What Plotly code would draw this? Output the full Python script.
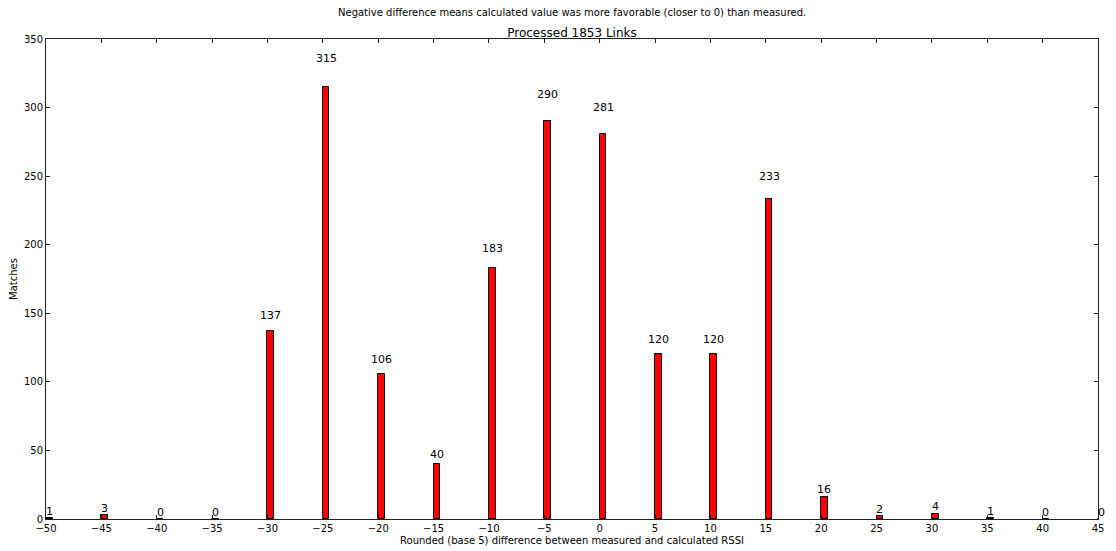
import plotly.graph_objects as go

# RSSI difference bins (rounded to base 5) and their match counts
bins = [-50, -45, -40, -35, -30, -25, -20, -15, -10, -5, 0, 5, 10, 15, 20, 25, 30, 35, 40, 45]
matches = [1, 3, 0, 0, 137, 315, 106, 40, 183, 290, 281, 120, 120, 233, 16, 2, 4, 1, 0, 0]
x_ticks = list(range(-50, 50, 5))
y_ticks = list(range(0, 400, 50))

x_range = [-50, 45]
bar_width = 0.6
font_family = "DejaVu Sans, sans-serif"
axis_color = "#222222"

fig = go.Figure()
fig.add_trace(go.Bar(
    x=bins,
    y=matches,
    width=bar_width,
    offset=0,
    marker=dict(color="#ff0000", line=dict(color="black", width=1)),
    showlegend=False,
))


def to_paper_x(v):
    """Map a data x value onto the paper fraction of the x axis."""
    return (v - x_range[0]) / (x_range[1] - x_range[0])


# value labels above each bar (at 1.05 x height); paper x keeps the
# label on the right edge visible even though it sits past the axis range
for b, m in zip(bins, matches):
    fig.add_annotation(
        xref="paper", yref="y",
        x=to_paper_x(b + bar_width / 2), y=m * 1.05, text=str(m),
        showarrow=False, yanchor="bottom", xanchor="center", yshift=-1,
        font=dict(family=font_family, size=11, color="black"),
        borderpad=0,
    )

fig.add_annotation(
    text="Negative difference means calculated value was more favorable (closer to 0) than measured.",
    xref="paper", yref="paper", x=0.5, y=1.0, xanchor="center", yanchor="bottom",
    yshift=19, showarrow=False, font=dict(family=font_family, size=10, color="black"),
)

fig.update_layout(
    width=1116, height=551,
    margin=dict(l=46, r=18, t=39, b=32),
    paper_bgcolor="white", plot_bgcolor="white",
    font=dict(family=font_family, size=10, color="black"),
    title=dict(text="Processed 1853 Links", x=0.5, xref="paper", y=1.0, yref="paper",
               yanchor="bottom", pad=dict(b=2), font=dict(size=12)),
    bargap=0,
)
fig.update_xaxes(
    range=x_range, tickvals=x_ticks, ticktext=[str(t).replace("-", "\u2212") for t in x_ticks],
    ticks="inside", ticklen=4, tickcolor=axis_color, mirror="allticks",
    showline=True, linecolor=axis_color, linewidth=1, showgrid=False, zeroline=False,
    automargin=False,
    title=dict(text="Rounded (base 5) difference between measured and calculated RSSI",
               font=dict(size=10), standoff=3),
)
fig.update_yaxes(
    range=[0, 350], tickvals=y_ticks,
    ticks="inside", ticklen=4, tickcolor=axis_color, mirror="allticks",
    showline=True, linecolor=axis_color, linewidth=1, showgrid=False, zeroline=False,
    automargin=False,
    title=dict(text="Matches", font=dict(size=10), standoff=4),
)

fig.write_html("out.html")
